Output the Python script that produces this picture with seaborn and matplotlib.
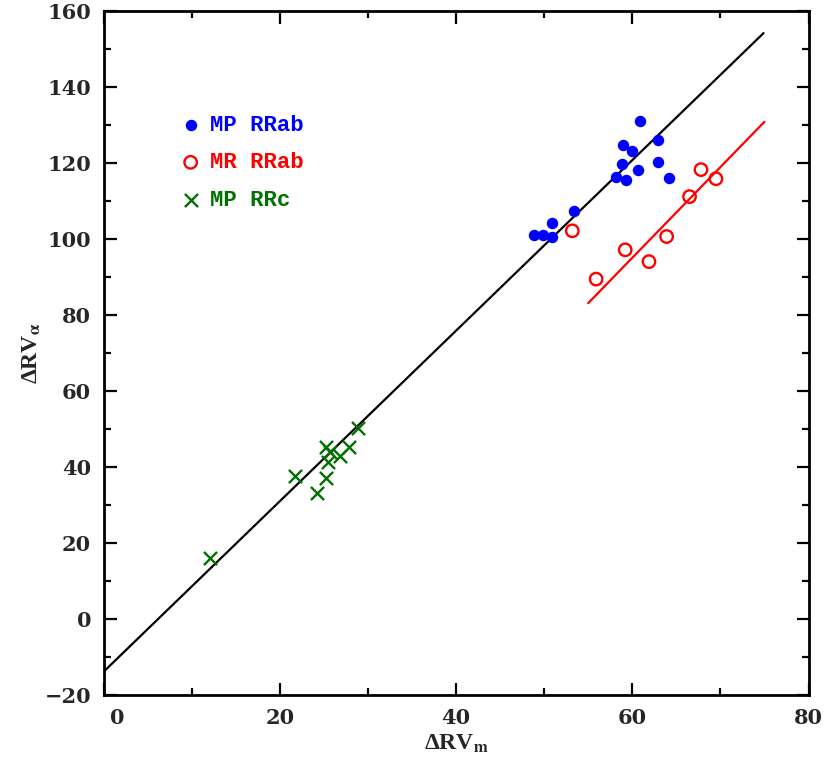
import numpy as np
import pandas as pd
import matplotlib
matplotlib.use("Agg")
import matplotlib.pyplot as plt
from matplotlib.ticker import MultipleLocator, FuncFormatter
import seaborn as sns

sns.set_theme(style="ticks")
plt.rcParams["font.family"] = ["DejaVu Serif"]
plt.rcParams["mathtext.fontset"] = "stix"

BLUE = "#0000FF"
RED = "#FF0000"
GREEN = "#007000"

# MP RRab (filled blue)
mp_rrab_x = [48.9, 49.9, 50.9, 50.9, 53.4, 58.2, 59.3, 58.8, 58.9, 60.0, 60.6, 60.9, 62.9, 62.9, 64.2]
mp_rrab_y = [101.0, 101.0, 100.6, 104.1, 107.2, 116.2, 115.5, 119.7, 124.7, 123.2, 118.2, 131.1, 126.0, 120.2, 116.1]

# MR RRab (open red)
mr_rrab_x = [53.2, 55.9, 59.2, 61.9, 63.9, 66.5, 67.8, 69.5]
mr_rrab_y = [102.1, 89.4, 97.1, 94.0, 100.6, 111.1, 118.2, 115.8]

# MP RRc (green crosses)
mp_rrc_x = [12.1, 21.7, 24.2, 25.3, 25.5, 25.2, 25.7, 26.8, 27.9, 28.9]
mp_rrc_y = [16.1, 37.6, 33.2, 37.2, 41.2, 45.2, 44.0, 43.0, 45.3, 50.2]

# linear relations
mp_fit_x = [0.0, 74.9]
mp_fit_coef = (-13.9, 2.243)
mr_fit_x = [55.0, 75.0]
mr_fit_coef = (-48.1, 2.385)

mp_fit_y = [mp_fit_coef[0] + mp_fit_coef[1] * v for v in mp_fit_x]
mr_fit_y = [mr_fit_coef[0] + mr_fit_coef[1] * v for v in mr_fit_x]

fig = plt.figure(figsize=(8.3, 7.69), dpi=100)
ax = fig.add_axes([0.1247, 0.0962, 0.8494, 0.8899])

sns.lineplot(x=mp_fit_x, y=mp_fit_y, ax=ax, color="black", lw=1.6)
sns.lineplot(x=mr_fit_x, y=mr_fit_y, ax=ax, color=RED, lw=1.6)

sns.scatterplot(x=mp_rrab_x, y=mp_rrab_y, ax=ax, marker="o", s=68,
                color=BLUE, edgecolor=BLUE, linewidth=0, label="MP RRab", zorder=3)
sns.scatterplot(x=mr_rrab_x, y=mr_rrab_y, ax=ax, marker="o", s=80,
                facecolors="none", edgecolors=RED, linewidth=1.7, label="MR RRab", zorder=3)
sns.scatterplot(x=mp_rrc_x, y=mp_rrc_y, ax=ax, marker="x", s=90,
                color=GREEN, linewidth=1.7, label="MP RRc", zorder=3)

ax.set_xlim(0, 80)
ax.set_ylim(-20, 160)
ax.xaxis.set_major_locator(MultipleLocator(20))
ax.xaxis.set_minor_locator(MultipleLocator(10))
ax.yaxis.set_major_locator(MultipleLocator(20))
ax.yaxis.set_minor_locator(MultipleLocator(10))
# the "0" on x is drawn a little off the corner below
ax.xaxis.set_major_formatter(FuncFormatter(lambda v, _: "" if v == 0 else f"{v:.0f}"))
ax.tick_params(which="both", direction="in", top=True, right=True,
               width=1.6, color="black")
ax.tick_params(which="major", length=9, pad=9, labelsize=15)
ax.tick_params(which="minor", length=5)
for lab in ax.get_xticklabels() + ax.get_yticklabels():
    lab.set_fontweight("bold")
for sp in ax.spines.values():
    sp.set_linewidth(2)
    sp.set_color("black")

ax.annotate("0", xy=(0, 0), xycoords=("data", "axes fraction"),
            xytext=(10, -9), textcoords="offset points", ha="center", va="top",
            fontsize=15, fontweight="bold")

ax.set_xlabel(r"ΔRV$_{\mathbf{m}}$", fontsize=17, fontweight="bold",
              family="Liberation Serif", labelpad=4)
ax.set_ylabel(r"ΔRV$_{\mathbf{\alpha}}$", fontsize=17, fontweight="bold",
              family="Liberation Serif", labelpad=1)

ax.legend(loc="upper left", bbox_to_anchor=(0.111, 0.848), frameon=False,
          prop=dict(family="Liberation Mono", weight="bold", size=16),
          labelcolor=[BLUE, RED, GREEN], handlelength=0.8, handletextpad=0.45,
          borderpad=0, borderaxespad=0, labelspacing=0.74)

fig.savefig("out.png", dpi=100)
